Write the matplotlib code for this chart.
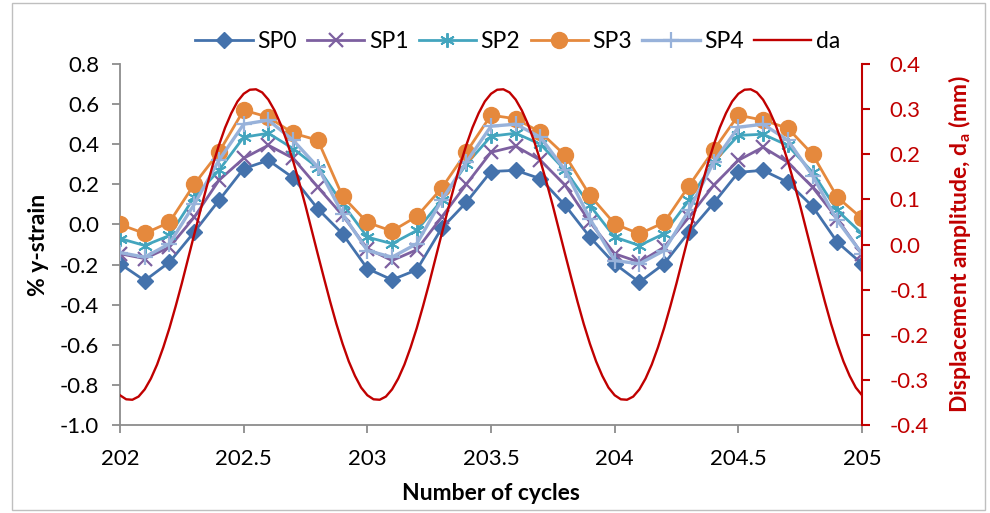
import matplotlib
matplotlib.use("Agg")
import matplotlib.pyplot as plt
from matplotlib.ticker import FormatStrFormatter, MultipleLocator
from matplotlib.patches import Rectangle

plt.rcParams['font.family'] = ['Lato', 'DejaVu Sans']

# ---- data -------------------------------------------------------------
cycles = [202.0 + 0.1 * i for i in range(31)]

sp0 = [-0.196, -0.280, -0.188, -0.038, 0.120, 0.278, 0.320, 0.233, 0.078, -0.047,
       -0.220, -0.276, -0.226, -0.020, 0.110, 0.264, 0.270, 0.228, 0.095, -0.063,
       -0.196, -0.288, -0.196, -0.038, 0.106, 0.260, 0.270, 0.210, 0.090, -0.088,
       -0.196]
sp1 = [-0.146, -0.170, -0.113, 0.036, 0.220, 0.330, 0.395, 0.330, 0.186, 0.045,
       -0.120, -0.180, -0.126, 0.036, 0.200, 0.360, 0.390, 0.320, 0.195, 0.012,
       -0.146, -0.188, -0.113, 0.036, 0.195, 0.320, 0.385, 0.310, 0.186, 0.028,
       -0.146]
sp2 = [-0.070, -0.105, -0.055, 0.136, 0.270, 0.435, 0.455, 0.378, 0.283, 0.103,
       -0.063, -0.096, -0.030, 0.120, 0.300, 0.440, 0.455, 0.400, 0.270, 0.095,
       -0.063, -0.105, -0.046, 0.120, 0.310, 0.444, 0.450, 0.394, 0.260, 0.070,
       -0.046]
sp3 = [0.000, -0.045, 0.011, 0.200, 0.360, 0.570, 0.535, 0.455, 0.420, 0.140,
       0.010, -0.033, 0.040, 0.180, 0.360, 0.545, 0.527, 0.460, 0.344, 0.145,
       0.003, -0.047, 0.010, 0.192, 0.370, 0.545, 0.520, 0.480, 0.350, 0.136,
       0.030]
sp4 = [-0.140, -0.163, -0.096, 0.100, 0.320, 0.500, 0.520, 0.420, 0.286, 0.053,
       -0.130, -0.163, -0.096, 0.120, 0.310, 0.490, 0.500, 0.435, 0.270, 0.028,
       -0.180, -0.196, -0.130, 0.070, 0.310, 0.485, 0.500, 0.420, 0.244, 0.020,
       -0.146]

# displacement amplitude, read every 0.025 cycle (one cycle repeats)
da_one_cycle = [-0.334, -0.343, -0.344, -0.337, -0.321, -0.297, -0.266, -0.228,
                -0.185, -0.137, -0.086, -0.032, 0.022, 0.075, 0.127, 0.176,
                0.220, 0.259, 0.291, 0.317, 0.334, 0.343, 0.344, 0.337,
                0.321, 0.297, 0.266, 0.228, 0.185, 0.137, 0.086, 0.032,
                -0.022, -0.075, -0.127, -0.176, -0.220, -0.259, -0.291, -0.317]
da = da_one_cycle * 3 + [-0.334]
da_cycles = [202.0 + 0.025 * i for i in range(len(da))]

x_ticks = [202, 202.5, 203, 203.5, 204, 204.5, 205]
x_tick_labels = ["202", "202.5", "203", "203.5", "204", "204.5", "205"]

# ---- figure -----------------------------------------------------------
fig = plt.figure(figsize=(9.9, 5.13), dpi=100)
ax = fig.add_axes([0.1212, 0.1715, 0.7495, 0.7037])
ax2 = ax.twinx()

lw = 2.0
h0, = ax.plot(cycles, sp0, color='#4472AC', lw=lw, marker='D', ms=8.5, label='SP0', zorder=3)
h1, = ax.plot(cycles, sp1, color='#7D60A0', lw=lw, marker='x', ms=9.5, mew=1.6, label='SP1', zorder=3)
h2, = ax.plot(cycles, sp2, color='#43A5BE', lw=lw, marker=(6, 2, 0), ms=10.5, mew=1.4, label='SP2', zorder=3)
h3, = ax.plot(cycles, sp3, color='#E5893D', lw=lw, marker='o', ms=11.5, label='SP3', zorder=3)
h4, = ax.plot(cycles, sp4, color='#98B2DA', lw=2.4, marker='+', ms=11.5, mew=1.6, label='SP4', zorder=3)
h5, = ax2.plot(da_cycles, da, color='#C00000', lw=1.7, label='da', zorder=4)

ax.set_xlim(202, 205)
ax.set_ylim(-1.0, 0.8)
ax.yaxis.set_major_locator(MultipleLocator(0.2))
ax.yaxis.set_major_formatter(FormatStrFormatter('%.1f'))
ax.set_xticks(x_ticks)
ax.set_xticklabels(x_tick_labels)
ax2.set_ylim(-0.4, 0.4)
ax2.yaxis.set_major_locator(MultipleLocator(0.1))
ax2.yaxis.set_major_formatter(FormatStrFormatter('%.1f'))

gray = '#8C8C8C'
for a in (ax, ax2):
    a.spines['top'].set_visible(False)
ax.spines['left'].set_color(gray)
ax.spines['bottom'].set_color(gray)
ax.spines['right'].set_visible(False)
ax.spines['left'].set_linewidth(1.3)
ax.spines['bottom'].set_linewidth(1.3)
ax2.spines['left'].set_visible(False)
ax2.spines['bottom'].set_visible(False)
ax2.spines['right'].set_color('#C00000')
ax2.spines['right'].set_linewidth(1.5)

ax.tick_params(axis='both', direction='out', length=6, width=1.3, color=gray,
               labelsize=16, labelcolor='black')
ax.tick_params(axis='x', pad=11)
ax.tick_params(axis='y', pad=9)
ax2.tick_params(axis='y', direction='out', length=6, width=1.5, color='#C00000',
                labelsize=16, labelcolor='#C00000', pad=14)

ax.set_xlabel('Number of cycles', fontsize=16.5, fontweight='bold', labelpad=10)
ax.set_ylabel('% y-strain', fontsize=16.5, fontweight='bold', labelpad=8)
ax2.set_ylabel('Displacement amplitude, d$_\\mathregular{a}$ (mm)', fontsize=16.5,
               fontweight='bold', color='#C00000', labelpad=12)

leg = fig.legend(handles=[h0, h1, h2, h3, h4, h5], loc='center',
                 bbox_to_anchor=(0.523, 0.92), ncol=6, frameon=False,
                 fontsize=16.5, handlelength=2.5, handletextpad=0.2,
                 columnspacing=0.45, numpoints=1)

fig.patches.append(Rectangle((0.012, 0.006), 0.983, 0.988, transform=fig.transFigure,
                             fill=False, edgecolor='#BFBFBF', lw=1.0))

fig.savefig('out.png', dpi=100, facecolor='white')
